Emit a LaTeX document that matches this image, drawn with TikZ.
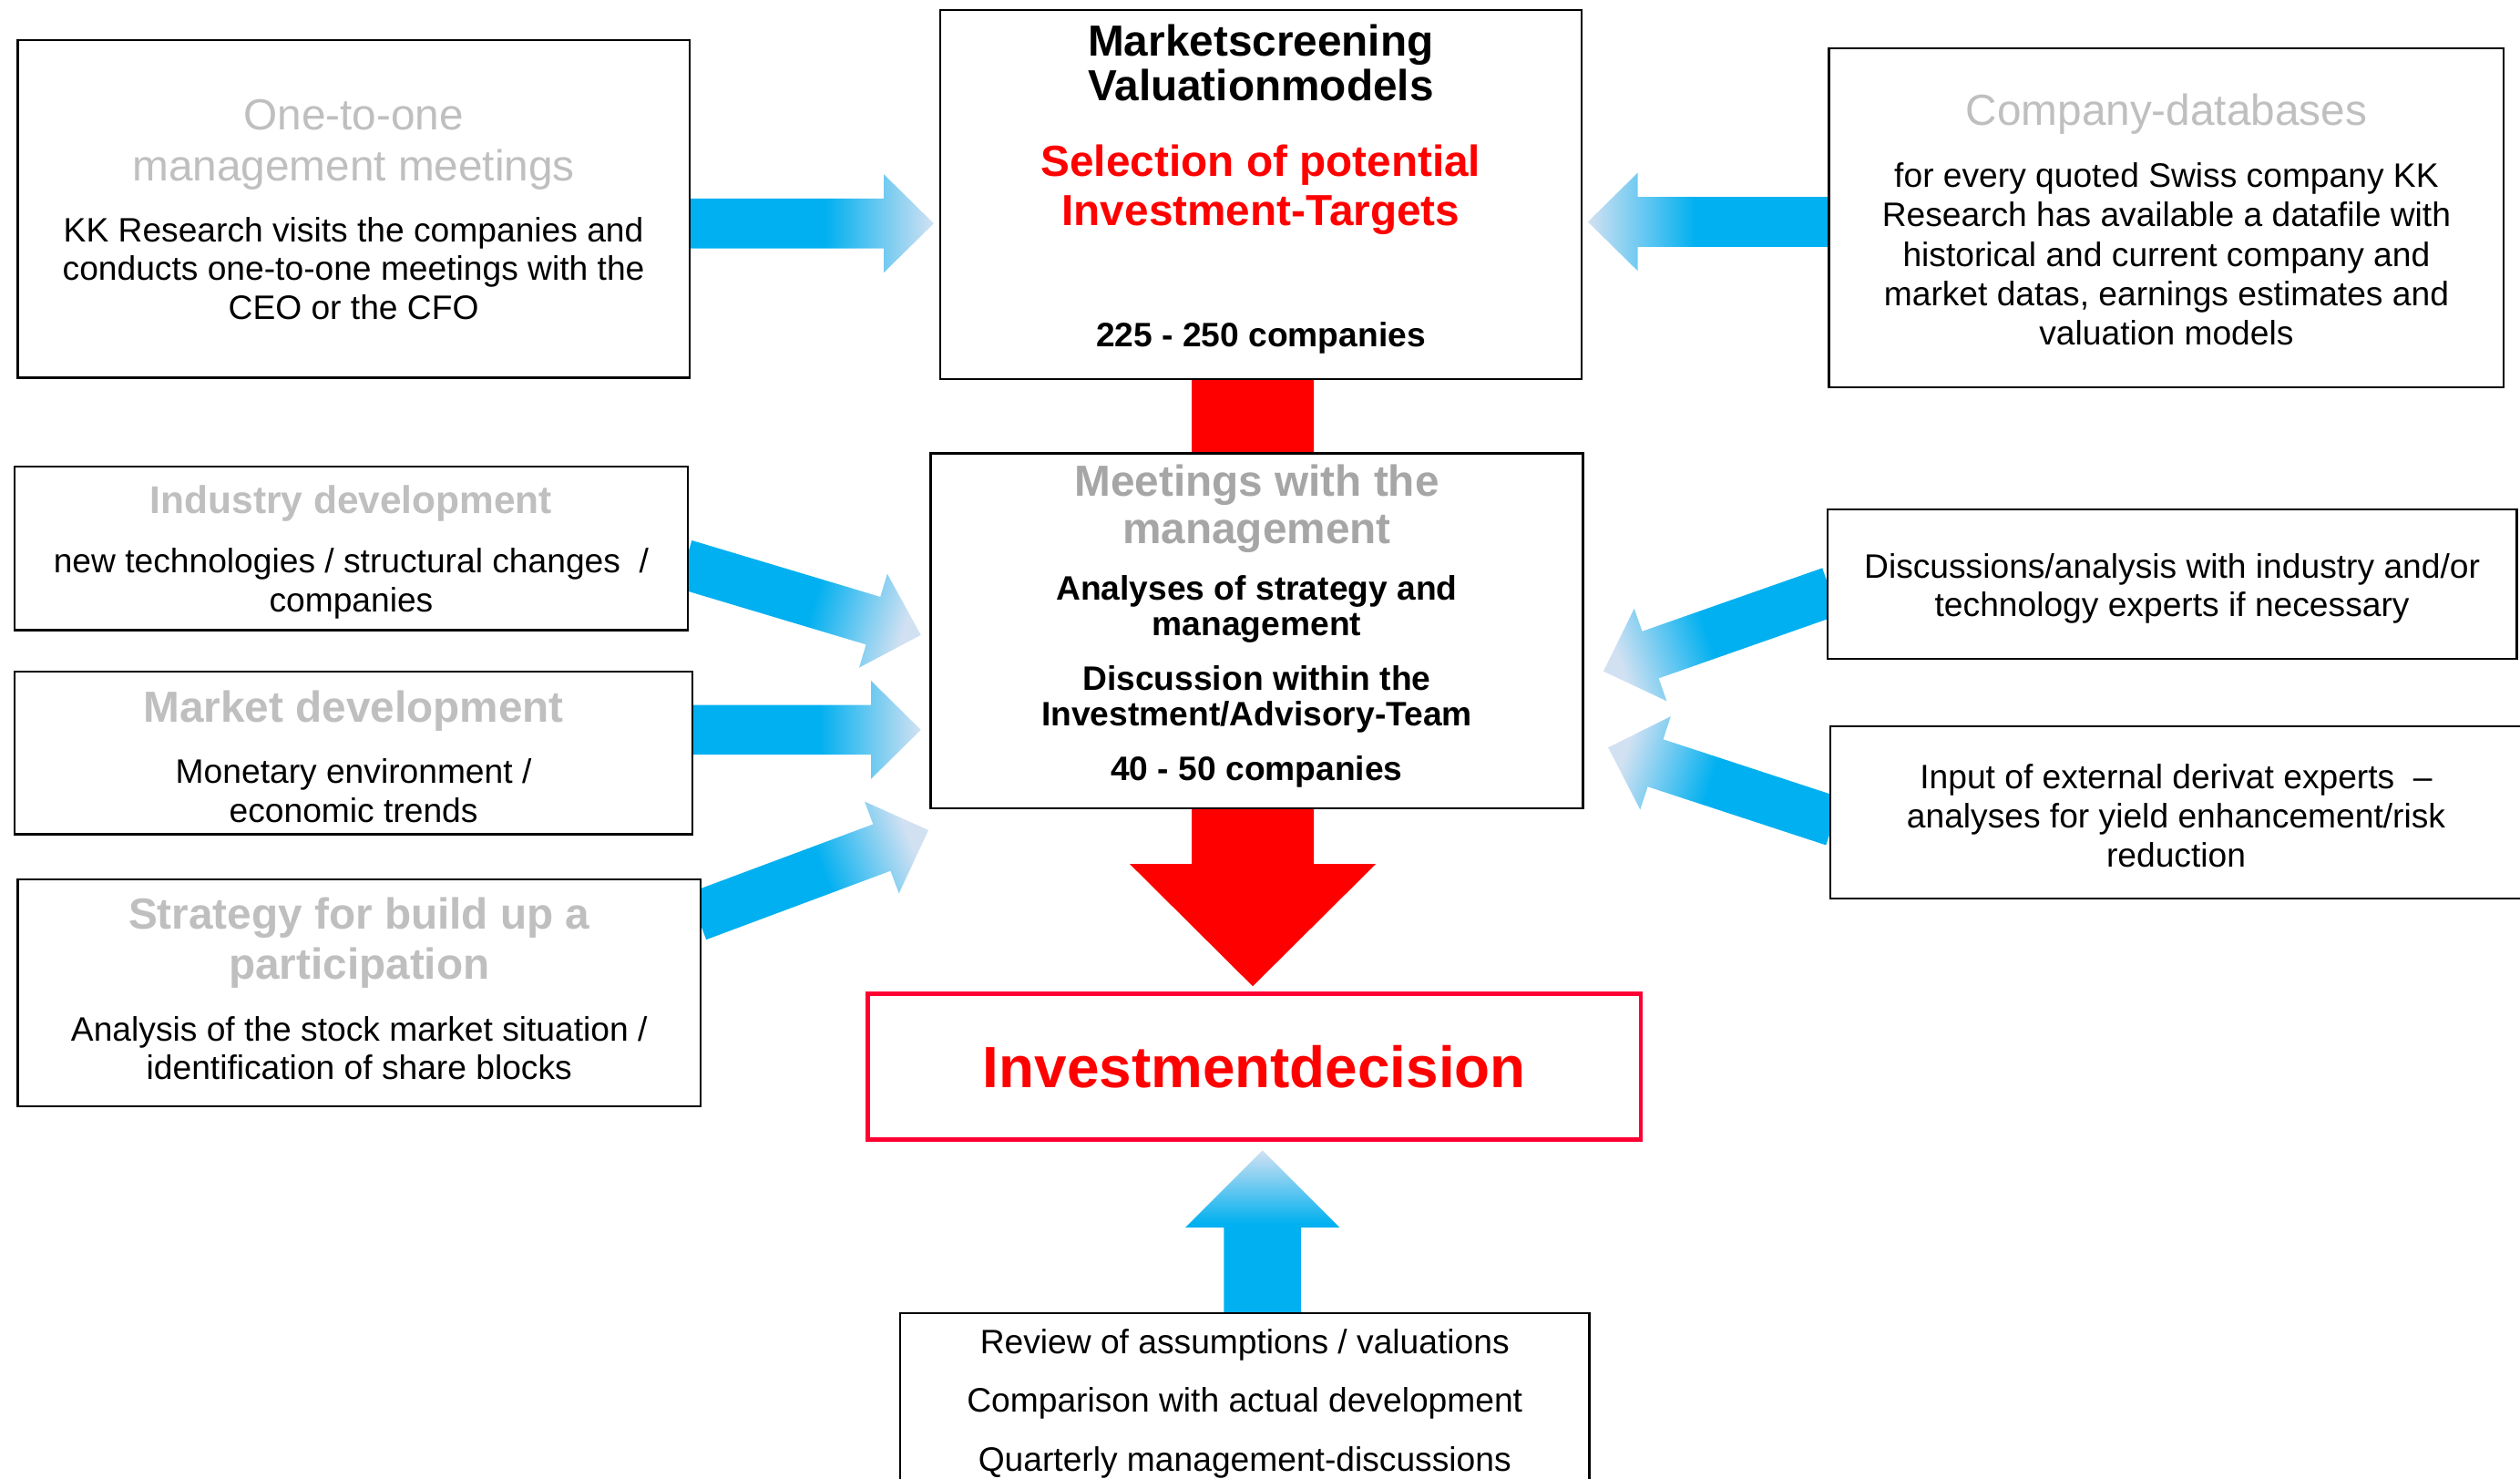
\documentclass[tikz,border=0pt]{standalone}
\usepackage{fontspec}
\setmainfont{Liberation Sans}
\usetikzlibrary{calc}

\definecolor{arrowblue}{HTML}{00B0F0}
\definecolor{arrowtip}{HTML}{D2E1F2}
\definecolor{titlegray}{HTML}{BFBFBF}
\definecolor{meetgray}{HTML}{A6A6A6}
\definecolor{signalred}{HTML}{FF0000}
\definecolor{framered}{HTML}{FF0033}

% solid blue for the first half of the arrow, then fading out towards the tip
\pgfdeclarehorizontalshading{arrowfade}{100bp}{color(0bp)=(arrowblue); color(53bp)=(arrowblue); color(75bp)=(arrowtip); color(100bp)=(arrowtip)}

% block arrow: tail, tip, half shaft width, half head width, head length, fill options
\newcommand{\flowarrow}[6]{%
  \pgfmathanglebetweenpoints{\pgfpointanchor{#1}{center}}{\pgfpointanchor{#2}{center}}%
  \let\arrowangle\pgfmathresult
  \coordinate (hb) at ($(#2)!#5!(#1)$);
  \path[#6] ($(#1)!#3!90:(#2)$) -- ($(hb)!#3!-90:(#1)$) -- ($(hb)!#4!-90:(#1)$) -- (#2)
    -- ($(hb)!#4!90:(#1)$) -- ($(hb)!#3!90:(#1)$) -- ($(#1)!#3!-90:(#2)$) -- cycle;
}

\tikzset{
  box/.style={draw, line width=0.7pt, fill=white, inner sep=0pt},
  title/.style={align=center, inner sep=0pt, text=titlegray, font=\fontsize{15.4}{18.2}\selectfont},
  heading/.style={align=center, inner sep=0pt, text=titlegray, font=\bfseries\fontsize{15.4}{17.6}\selectfont},
  body/.style={align=center, inner sep=0pt, font=\fontsize{12}{13.7}\selectfont},
  boldbody/.style={align=center, inner sep=0pt, font=\bfseries\fontsize{12}{12.5}\selectfont},
  bluearrow/.style={shade, shading=arrowfade, shading angle=\arrowangle},
}

\begin{document}
\begin{tikzpicture}[x=0.02cm, y=-0.02cm]
  \useasboundingbox (0,0) rectangle (1568,920);

  % Arrow end points
  \coordinate (oto-out) at (427,139);   \coordinate (oto-in) at (581,139);
  \coordinate (db-out) at (1140,138);   \coordinate (db-in) at (988,138);
  \coordinate (ind-out) at (426,351);   \coordinate (ind-in) at (573,395);
  \coordinate (mkt-out) at (429,454);   \coordinate (mkt-in) at (573,454);
  \coordinate (str-out) at (434,570);   \coordinate (str-in) at (577.7,516.4);
  \coordinate (exp-out) at (1139,368);  \coordinate (exp-in) at (997.7,417.6);
  \coordinate (der-out) at (1141,511);  \coordinate (der-in) at (1000.6,465);
  \coordinate (rev-out) at (785.5,820); \coordinate (rev-in) at (785.5,715.6);
  \coordinate (sel-out) at (779.5,230); \coordinate (sel-in) at (779.5,613.5);

  % Draw arrows (the boxes are drawn over their tails)
  \flowarrow{sel-out}{sel-in}{0.76cm}{1.53cm}{1.52cm}{fill=signalred}
  \flowarrow{oto-out}{oto-in}{0.31cm}{0.61cm}{0.62cm}{bluearrow}
  \flowarrow{db-out}{db-in}{0.31cm}{0.61cm}{0.62cm}{bluearrow}
  \flowarrow{ind-out}{ind-in}{0.31cm}{0.61cm}{0.62cm}{bluearrow}
  \flowarrow{mkt-out}{mkt-in}{0.31cm}{0.61cm}{0.62cm}{bluearrow}
  \flowarrow{str-out}{str-in}{0.31cm}{0.61cm}{0.62cm}{bluearrow}
  \flowarrow{exp-out}{exp-in}{0.31cm}{0.61cm}{0.62cm}{bluearrow}
  \flowarrow{der-out}{der-in}{0.31cm}{0.61cm}{0.62cm}{bluearrow}
  \flowarrow{rev-out}{rev-in}{0.48cm}{0.96cm}{0.96cm}{bluearrow}

  % Draw boxes
  \node[box, minimum width=8.36cm, minimum height=4.2cm] (oto) at (220,130) {};
  \node[box, minimum width=7.98cm, minimum height=4.6cm] (screen) at (784.5,121) {};
  \node[box, minimum width=8.4cm, minimum height=4.22cm] (db) at (1348,135.5) {};
  \node[box, minimum width=8.38cm, minimum height=2.04cm] (ind) at (218.5,341) {};
  \node[box, minimum width=8.12cm, minimum height=4.42cm] (meet) at (782,392.5) {};
  \node[box, minimum width=8.44cm, minimum height=2.02cm] (mkt) at (220,468.5) {};
  \node[box, minimum width=8.5cm, minimum height=2.82cm] (str) at (223.5,617.5) {};
  \node[box, minimum width=8.58cm, minimum height=1.86cm] (exp) at (1351.5,363.5) {};
  \node[box, minimum width=8.64cm, minimum height=2.14cm] (der) at (1355,505.5) {};
  \node[box, draw=framered, line width=1.5pt, text=signalred, font=\bfseries\fontsize{20.6}{24}\selectfont,
    minimum width=9.62cm, minimum height=1.82cm] (decision) at (780.5,663.5) {Investmentdecision};
  \node[box, body, font=\fontsize{12}{20.8}\selectfont, minimum width=8.58cm, minimum height=2.24cm] (review) at (774.5,873)
    {Review of assumptions / valuations\\Comparison with actual development\\Quarterly management-discussions};

  % Texts inside the boxes
  \node[title] (oto-title) at (220,90) {One-to-one\\management meetings};
  \node[body] (oto-text) at (220,167) {KK Research visits the companies and\\conducts one-to-one meetings with the\\CEO or the CFO};

  \node[align=center, inner sep=0pt, font=\bfseries\fontsize{15.4}{15.9}\selectfont] (screen-title) at (784.5,39) {Marketscreening\\Valuationmodels};
  \node[heading, text=signalred] (screen-goal) at (784.5,118) {Selection of potential\\Investment-Targets};
  \node[boldbody] (screen-count) at (784.5,210) {225 - 250 companies};

  \node[title] (db-title) at (1348,71) {Company-databases};
  \node[body, font=\fontsize{12}{13.9}\selectfont] (db-text) at (1348,158) {for every quoted Swiss company KK\\Research has available a datafile with\\historical and current company and\\market datas, earnings estimates and\\valuation models};

  \node[heading, font=\bfseries\fontsize{13.7}{16}\selectfont] (ind-title) at (218.5,313) {Industry development};
  \node[body] (ind-text) at (218.5,363) {new technologies / structural changes\ \ /\\companies};

  \node[heading, text=meetgray, font=\bfseries\fontsize{15.4}{16.5}\selectfont] (meet-title) at (782,316.5) {Meetings with the\\management};
  \node[boldbody] (meet-strategy) at (782,379) {Analyses of strategy and\\management};
  \node[boldbody] (meet-team) at (782,435) {Discussion within the\\Investment/Advisory-Team};
  \node[boldbody] (meet-count) at (782,480) {40 - 50 companies};

  \node[body] (exp-text) at (1351.5,366) {Discussions/analysis with industry and/or\\technology experts if necessary};
  \node[body, font=\fontsize{12}{13.9}\selectfont] (der-text) at (1354,507.5) {Input of external derivat experts\ \ --\\analyses for yield enhancement/risk\\reduction};

  \node[heading] (mkt-title) at (220,442) {Market development};
  \node[body] (mkt-text) at (220,492) {Monetary environment /\\economic trends};

  \node[heading] (str-title) at (223.5,586.5) {Strategy for build up a\\participation};
  \node[body] (str-text) at (223.5,652) {Analysis of the stock market situation /\\identification of share blocks};
\end{tikzpicture}
\end{document}
